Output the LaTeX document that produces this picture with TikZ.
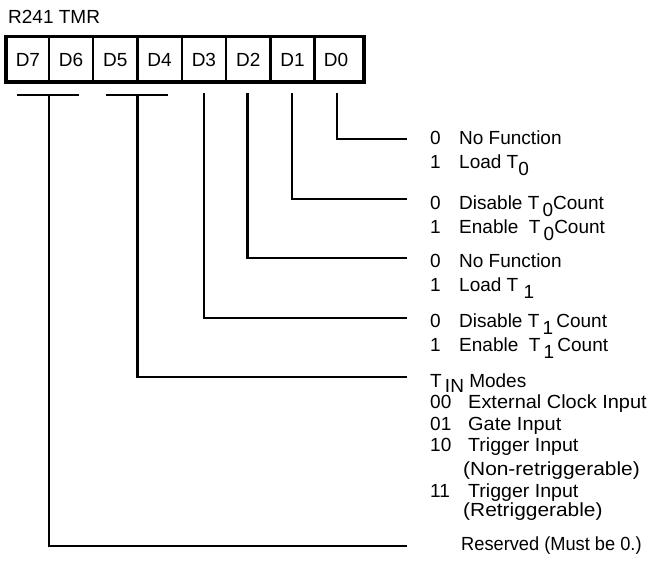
\documentclass[tikz,border=0pt]{standalone}
\usepackage{fontspec}
\usepackage{graphicx}
\setmainfont{Liberation Sans}
\newcommand{\hstretch}[2]{\scalebox{#1}[1]{#2}}
\begin{document}
\begin{tikzpicture}[x=1pt,y=-1pt,
  txt/.style={anchor=base west,inner sep=0pt,font=\fontsize{19}{22}\selectfont},
  lbl/.style={anchor=base,inner sep=0pt,font=\fontsize{19}{22}\selectfont},
  conn/.style={line width=2.4pt},
  divider/.style={line width=2.4pt},
  frame/.style={line width=3.8pt}]
\useasboundingbox (0,0) rectangle (649,571);
% register frame
\node[draw,frame,minimum width=358.4pt,minimum height=45.6pt,inner sep=0pt] (reg) at (185,59.3) {};
\foreach \x in {48.8,93.1,137.4,181.7,226,270.3,314.6}{
  \draw[divider] (\x,37) -- (\x,82);
}
\node[txt] (title) at (8,23) {R241 TMR};
\node[lbl] (d7) at (27.9,66) {D7};
\node[lbl] (d6) at (71,66) {D6};
\node[lbl] (d5) at (115.3,66) {D5};
\node[lbl] (d4) at (159.6,66) {D4};
\node[lbl] (d3) at (203.9,66) {D3};
\node[lbl] (d2) at (248.2,66) {D2};
\node[lbl] (d1) at (292.5,66) {D1};
\node[lbl] (d0) at (336,66) {D0};
% connector start / end points
\coordinate (s0) at (337,93);
\coordinate (s1) at (292,93);
\coordinate (s2) at (247.5,93);
\coordinate (s3) at (204,93);
\coordinate (b54) at (137.4,95);
\coordinate (b76) at (48.8,95);
\coordinate (e0) at (407,139);
\coordinate (e1) at (407,199);
\coordinate (e2) at (407,258);
\coordinate (e3) at (407,318);
\coordinate (e54) at (407,377);
\coordinate (e76) at (407,546);
\draw[conn] (s0) |- (e0);
\draw[conn] (s1) |- (e1);
\draw[conn] (s2) |- (e2);
\draw[conn] (s3) |- (e3);
\draw[conn] (106,95) -- (168,95);
\draw[conn] (b54) |- (e54);
\draw[conn] (17,95) -- (79,95);
\draw[conn] (b76) |- (e76);
% texts
\node[txt] (n0a) at (430,144) {0};
\node[txt] (t0a) at (459,144) {No Function};
\node[txt] (n0b) at (430,168) {1};
\node[txt] (t0b) at (459,168) {Load T\raisebox{-7pt}{0}};
\node[txt] (n1a) at (430,209) {0};
\node[txt] (t1a) at (459,209) {Disable T\,\raisebox{-7pt}{0}Count};
\node[txt] (n1b) at (430,233) {1};
\node[txt] (t1b) at (459,233) {Enable\ \ T\,\raisebox{-7pt}{0}Count};
\node[txt] (n2a) at (430,267) {0};
\node[txt] (t2a) at (459,267) {No Function};
\node[txt] (n2b) at (430,291) {1};
\node[txt] (t2b) at (459,291) {Load T\ \raisebox{-7pt}{1}};
\node[txt] (n3a) at (430,327) {0};
\node[txt] (t3a) at (459,327) {Disable T\,\raisebox{-7pt}{1}\,Count};
\node[txt] (n3b) at (430,351) {1};
\node[txt] (t3b) at (459,351) {Enable\ \ T\,\raisebox{-7pt}{1}\,Count};
\node[txt] (t54) at (430,387) {T\,\raisebox{-5pt}{IN}\ Modes};
\node[txt] (m00) at (430,408) {00};
\node[txt] (m00t) at (468,408) {\hstretch{1.05}{External Clock Input}};
\node[txt] (m01) at (430,430) {01};
\node[txt] (m01t) at (468,430) {\hstretch{1.05}{Gate Input}};
\node[txt] (m10) at (430,451) {10};
\node[txt] (m10t) at (468,451) {\hstretch{1.03}{Trigger Input}};
\node[txt] (m10u) at (463,475) {\hstretch{1.1}{(Non-retriggerable)}};
\node[txt] (m11) at (430,497) {11};
\node[txt] (m11t) at (468,497) {\hstretch{1.03}{Trigger Input}};
\node[txt] (m11u) at (463,516) {\hstretch{1.1}{(Retriggerable)}};
\node[txt] (t76) at (461,550) {\hstretch{0.96}{Reserved (Must be 0.)}};
\end{tikzpicture}
\end{document}
